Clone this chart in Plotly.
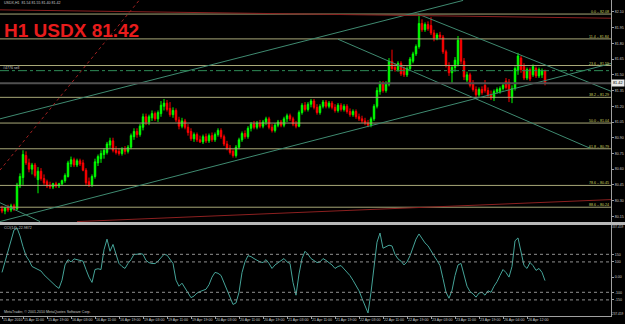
import plotly.graph_objects as go

# ---------------- data ----------------
BARS = list(range(182))
OPEN = [80.22,80.20,80.23,80.21,80.25,80.22,80.44,80.52,80.73,80.66,80.60,80.64,80.50,80.58,80.51,80.48,80.45,80.43,80.46,80.44,
        80.46,80.49,80.53,80.65,80.69,80.64,80.68,80.66,80.59,80.48,80.45,80.53,80.66,80.70,80.74,80.76,80.83,80.87,80.78,80.77,
        80.75,80.79,80.77,80.81,80.91,80.96,80.93,81.00,81.10,81.05,81.09,81.13,81.08,81.13,81.20,81.23,81.18,81.12,81.16,81.07,
        81.01,81.06,81.00,80.96,80.89,80.93,80.88,80.86,80.91,80.87,80.92,80.88,80.93,80.97,80.91,80.84,80.80,80.77,80.73,80.81,
        80.88,80.94,80.91,80.99,81.03,81.00,81.04,81.01,81.05,81.08,81.00,80.97,81.02,81.05,81.02,81.08,81.11,81.08,81.03,81.01,
        81.14,81.21,81.17,81.22,81.25,81.19,81.14,81.20,81.24,81.20,81.23,81.19,81.16,81.21,81.17,81.20,81.15,81.12,81.15,81.10,
        81.08,81.06,81.04,81.02,81.08,81.20,81.34,81.42,81.35,81.41,81.63,81.57,81.55,81.61,81.56,81.50,81.56,81.63,81.70,81.77,
        81.99,81.93,81.98,81.97,81.90,81.85,81.88,81.86,81.72,81.59,81.52,81.57,81.60,81.83,81.63,81.45,81.50,81.42,81.36,81.31,
        81.36,81.40,81.35,81.31,81.28,81.34,81.34,81.37,81.44,81.43,81.28,81.37,81.54,81.66,81.58,81.47,81.55,81.50,81.56,81.49,
        81.50,81.54]
HIGH = [80.25,80.24,80.26,80.27,80.27,80.47,80.56,80.78,80.77,80.70,80.66,80.66,80.62,80.61,80.55,80.50,80.48,80.47,80.48,80.47,
        80.50,80.56,80.68,80.72,80.71,80.70,80.70,80.69,80.61,80.52,80.55,80.70,80.74,80.78,80.80,80.86,80.90,80.90,80.82,80.80,
        80.81,80.82,80.83,80.94,80.99,80.99,81.03,81.13,81.13,81.12,81.16,81.15,81.16,81.25,81.27,81.26,81.24,81.19,81.18,81.10,
        81.09,81.08,81.03,80.99,80.95,80.95,80.92,80.93,80.94,80.94,80.95,80.95,80.99,80.99,80.93,80.87,80.83,80.79,80.83,80.90,
        80.96,80.97,81.01,81.05,81.06,81.06,81.07,81.07,81.10,81.10,81.03,81.04,81.07,81.07,81.10,81.13,81.13,81.10,81.06,81.16,
        81.23,81.24,81.24,81.27,81.27,81.22,81.22,81.26,81.26,81.25,81.25,81.22,81.23,81.23,81.22,81.22,81.18,81.17,81.17,81.13,
        81.11,81.09,81.07,81.10,81.22,81.38,81.44,81.44,81.44,81.66,81.74,81.61,81.63,81.63,81.58,81.58,81.67,81.72,81.79,82.08,
        82.03,82.00,82.01,82.05,81.93,81.90,81.91,81.88,81.74,81.62,81.59,81.67,81.87,81.85,81.66,81.53,81.52,81.45,81.39,81.38,
        81.39,81.45,81.38,81.35,81.36,81.38,81.39,81.42,81.47,81.46,81.40,81.58,81.71,81.68,81.61,81.57,81.57,81.60,81.58,81.57,
        81.56,81.55]
LOW = [80.18,80.17,80.19,80.19,80.20,80.21,80.42,80.45,80.64,80.57,80.55,80.52,80.37,80.49,80.45,80.42,80.41,80.41,80.42,80.42,
       80.44,80.47,80.52,80.62,80.62,80.62,80.63,80.58,80.44,80.43,80.43,80.51,80.63,80.66,80.70,80.74,80.80,80.76,80.74,80.73,
       80.73,80.74,80.75,80.79,80.88,80.90,80.91,80.97,81.02,81.02,81.06,81.06,81.05,81.10,81.16,81.15,81.10,81.09,81.05,80.98,
       80.99,80.98,80.92,80.87,80.86,80.86,80.85,80.84,80.85,80.85,80.86,80.86,80.91,80.89,80.82,80.78,80.74,80.71,80.71,80.79,
       80.86,80.89,80.89,80.96,80.98,80.98,80.99,80.99,81.02,80.98,80.95,80.95,81.00,81.00,81.00,81.05,81.06,81.01,80.99,81.00,
       81.12,81.15,81.15,81.19,81.17,81.12,81.12,81.18,81.18,81.18,81.17,81.14,81.14,81.15,81.15,81.13,81.10,81.10,81.08,81.06,
       81.04,81.02,81.00,81.00,81.06,81.18,81.31,81.33,81.33,81.39,81.54,81.53,81.53,81.49,81.48,81.48,81.54,81.61,81.68,81.75,
       81.91,81.91,81.92,81.88,81.82,81.83,81.84,81.70,81.57,81.49,81.42,81.53,81.58,81.60,81.45,81.43,81.38,81.34,81.29,81.29,
       81.31,81.33,81.29,81.26,81.25,81.32,81.32,81.35,81.36,81.24,81.23,81.35,81.50,81.52,81.45,81.45,81.44,81.48,81.47,81.47,
       81.47,81.40]
CLOSE = [80.20,80.23,80.21,80.25,80.22,80.45,80.53,80.74,80.66,80.60,80.64,80.54,80.58,80.51,80.47,80.44,80.43,80.46,80.44,80.46,
         80.49,80.54,80.66,80.69,80.64,80.68,80.65,80.59,80.47,80.45,80.53,80.67,80.72,80.75,80.78,80.84,80.87,80.78,80.76,80.75,
         80.79,80.77,80.81,80.92,80.96,80.93,81.01,81.10,81.05,81.10,81.13,81.08,81.14,81.21,81.23,81.17,81.12,81.16,81.07,81.01,
         81.06,81.00,80.95,80.89,80.93,80.88,80.86,80.91,80.87,80.92,80.88,80.93,80.97,80.91,80.84,80.80,80.76,80.73,80.81,80.88,
         80.94,80.91,80.99,81.03,81.00,81.04,81.01,81.05,81.08,81.00,80.97,81.02,81.05,81.02,81.08,81.11,81.08,81.03,81.01,81.14,
         81.21,81.17,81.22,81.25,81.19,81.14,81.20,81.24,81.20,81.23,81.19,81.16,81.21,81.17,81.20,81.15,81.12,81.15,81.10,81.08,
         81.06,81.04,81.02,81.08,81.20,81.35,81.42,81.35,81.41,81.63,81.56,81.55,81.61,81.51,81.50,81.56,81.65,81.70,81.77,81.99,
         81.93,81.98,81.94,81.90,81.85,81.88,81.86,81.72,81.59,81.52,81.57,81.64,81.83,81.63,81.48,81.50,81.40,81.36,81.31,81.36,
         81.33,81.35,81.31,81.28,81.34,81.36,81.37,81.40,81.38,81.28,81.37,81.56,81.68,81.55,81.47,81.55,81.46,81.58,81.49,81.55,
         81.54,81.42]
CCI = [31,100,160,230,310,324,271,200,140,110,70,60,50,40,15,-5,-25,-45,-60,-74,
       -20,80,115,100,120,115,112,105,50,0,-35,50,55,50,180,250,170,215,150,90,
       70,57,90,115,150,150,155,150,110,95,90,89,105,125,150,145,120,90,-20,-60,
       -40,-74,-105,-135,-125,-105,-95,-88,-80,-50,0,31,25,11,-40,-87,-130,-180,-170,-100,
       30,100,141,135,122,110,100,96,115,90,57,80,96,110,122,100,90,-35,-119,20,
       122,170,150,122,110,96,100,122,110,96,80,57,70,76,55,31,10,-21,-60,-90,
       -140,-190,-236,-100,80,230,290,190,200,210,205,150,120,105,80,100,140,200,250,284,
       252,225,206,170,141,110,76,-10,-100,-139,-87,10,80,90,11,-60,-95,-110,-132,-105,
       -100,-119,-90,-100,-60,-30,11,50,30,0,70,239,258,174,76,57,96,76,44,57,
       31,-22.99]

X_TICK_POS = [0, 7, 15, 23, 31, 39, 47, 55, 63, 71, 79, 87, 95, 103, 111, 119, 127, 135, 143, 151, 159, 167, 175]
X_TICK_TEXT = ["15 Apr 2010", "15 Apr 11:00", "15 Apr 19:00", "16 Apr 03:00", "16 Apr 11:00", "16 Apr 19:00",
               "19 Apr 03:00", "19 Apr 11:00", "19 Apr 19:00", "20 Apr 03:00", "20 Apr 11:00", "20 Apr 19:00",
               "21 Apr 03:00", "21 Apr 11:00", "21 Apr 19:00", "22 Apr 03:00", "22 Apr 11:00", "22 Apr 19:00",
               "23 Apr 03:00", "23 Apr 11:00", "23 Apr 19:00", "26 Apr 04:00", "26 Apr 12:00"]
PRICE_TICKS = [82.10, 81.95, 81.80, 81.65, 81.50, 81.35, 81.20, 81.05, 80.90, 80.75, 80.60, 80.45, 80.30, 80.15]
CCI_TICKS = [150, 100, 0, -100, -150]
CCI_TICK_TEXT = ["150", "100", "0.00", "-100", "-150"]
CCI_LEVELS = [150, 100, -100, -150]
CCI_MAX_LABEL, CCI_MIN_LABEL = "337.459", "-237.459"

FIB_HIGH, FIB_LOW = 82.08, 80.00
FIB_LEVELS = [0.0, 11.4, 23.6, 38.2, 50.0, 61.8, 78.6, 88.6]
LAST_PRICE = 81.42
SELL_PRICE = 81.54
HEADER = "USDX,H1  81.54 81.55 81.40 81.42"
TITLE = "H1 USDX 81.42"
CCI_TITLE = "CCI(14) -22.9872"
SELL_LABEL = "#4776 sell"
COPYRIGHT = "MetaTrader, © 2001-2010 MetaQuotes Software Corp."

# trend lines: (bar index, price) end points
TEAL_LINES = [
    [(-0.7, 81.08), (153.7, 82.21)],
    [(-0.7, 80.10), (203.3, 81.61)],
    [(-0.7, 80.28), (12.7, 80.10)],
    [(138.7, 82.08), (203.3, 81.34)],
    [(112.0, 81.84), (196.0, 80.80)],
]
RED_LINES = [
    [(-0.7, 82.12), (203.3, 82.04)],
    [(25.0, 80.10), (203.3, 80.31)],
]
RED_DOTTED = [(-0.7, 80.59), (45.7, 82.21)]

# ---------------- figure ----------------
X_RANGE = [-2 / 3, 203]
Y_RANGE = [80.096, 82.214]
Y2_RANGE = [-256, 343]
SMALL = dict(family="Liberation Sans, Arial", size=3.6, color="#c8c8c8")

fig = go.Figure()
fig.add_trace(go.Candlestick(
    x=BARS, open=OPEN, high=HIGH, low=LOW, close=CLOSE,
    increasing=dict(line=dict(color="#00ff00", width=1), fillcolor="#00ff00"),
    decreasing=dict(line=dict(color="#ff0000", width=1), fillcolor="#ff0000"),
    whiskerwidth=0, xaxis="x", yaxis="y", showlegend=False, hoverinfo="skip"))
fig.add_trace(go.Scatter(
    x=BARS, y=CCI, mode="lines", line=dict(color="#45a398", width=1),
    xaxis="x", yaxis="y2", showlegend=False, hoverinfo="skip"))

shapes = []
for lvl in FIB_LEVELS:
    p = FIB_HIGH - lvl / 100 * (FIB_HIGH - FIB_LOW)
    shapes.append(dict(type="line", xref="x", yref="y", x0=X_RANGE[0], x1=X_RANGE[1], y0=p, y1=p,
                       line=dict(color="#a8a878", width=1)))
for (a, b) in TEAL_LINES:
    shapes.append(dict(type="line", xref="x", yref="y", x0=a[0], y0=a[1], x1=b[0], y1=b[1],
                       line=dict(color="#3f8a70", width=1)))
for (a, b) in RED_LINES:
    shapes.append(dict(type="line", xref="x", yref="y", x0=a[0], y0=a[1], x1=b[0], y1=b[1],
                       line=dict(color="#8c2020", width=1)))
shapes.append(dict(type="line", xref="x", yref="y", x0=RED_DOTTED[0][0], y0=RED_DOTTED[0][1],
                   x1=RED_DOTTED[1][0], y1=RED_DOTTED[1][1], line=dict(color="#a02020", width=1, dash="dot")))
shapes.append(dict(type="line", xref="x", yref="y", x0=X_RANGE[0], x1=X_RANGE[1], y0=SELL_PRICE, y1=SELL_PRICE,
                   line=dict(color="#2e8b57", width=1, dash="dashdot")))
shapes.append(dict(type="line", xref="x", yref="y", x0=X_RANGE[0], x1=X_RANGE[1], y0=LAST_PRICE, y1=LAST_PRICE,
                   line=dict(color="#505050", width=2)))
for lv in CCI_LEVELS:
    shapes.append(dict(type="line", xref="x", yref="y2", x0=X_RANGE[0], x1=X_RANGE[1], y0=lv, y1=lv,
                       line=dict(color="#909090", width=1, dash="dot")))
# window separator
shapes.append(dict(type="rect", xref="paper", yref="paper", x0=0, x1=625 / 611,
                   y0=1 - 225 / 316, y1=1 - 222 / 316, fillcolor="#b8b8b8", line=dict(width=0), layer="above"))

annotations = []
for lvl in FIB_LEVELS:
    p = FIB_HIGH - lvl / 100 * (FIB_HIGH - FIB_LOW)
    annotations.append(dict(xref="x", yref="y", x=202.6, y=p, xanchor="right", yanchor="bottom",
                            text=f"{lvl:.1f} – {p:.2f}", showarrow=False,
                            font=dict(family="Liberation Sans, Arial", size=3.6, color="#d0d060"),
                            borderpad=0, yshift=-1))
annotations.append(dict(xref="paper", yref="y", x=1.0, y=LAST_PRICE, xanchor="left", yanchor="middle",
                        text=f"{LAST_PRICE:.2f}", showarrow=False, bgcolor="#e8e8e8",
                        font=dict(family="Liberation Sans, Arial", size=3.8, color="#000000"), borderpad=1))
annotations.append(dict(xref="paper", yref="paper", x=2 / 611, y=1 - 3.5 / 316, xanchor="left", yanchor="middle",
                        text=HEADER, showarrow=False, font=SMALL))
annotations.append(dict(xref="paper", yref="paper", x=2 / 611, y=1 - 30.5 / 316, xanchor="left", yanchor="middle",
                        text=f"<b>{TITLE}</b>", showarrow=False,
                        font=dict(family="Liberation Sans, Arial", size=19, color="#e81c1c")))
annotations.append(dict(xref="paper", yref="y", x=2 / 611, y=SELL_PRICE, xanchor="left", yanchor="bottom",
                        text=SELL_LABEL, showarrow=False, font=SMALL, borderpad=0))
annotations.append(dict(xref="paper", yref="paper", x=2 / 611, y=1 - 228 / 316, xanchor="left", yanchor="middle",
                        text=CCI_TITLE, showarrow=False, font=SMALL))
annotations.append(dict(xref="paper", yref="paper", x=2 / 611, y=1 - 312 / 316, xanchor="left", yanchor="middle",
                        text=COPYRIGHT, showarrow=False, font=SMALL))
CORNER = dict(family="Liberation Sans, Arial", size=3.1, color="#c8c8c8")
annotations.append(dict(xref="paper", yref="paper", x=624 / 611, y=1 - 227.5 / 316, xanchor="right", yanchor="middle",
                        text=CCI_MAX_LABEL, showarrow=False, font=CORNER, borderpad=0))
annotations.append(dict(xref="paper", yref="paper", x=624 / 611, y=1 - 313.5 / 316, xanchor="right", yanchor="middle",
                        text=CCI_MIN_LABEL, showarrow=False, font=CORNER, borderpad=0))

axis_common = dict(showgrid=False, zeroline=False, showline=True, linecolor="#a0a0a0", linewidth=1,
                   ticks="outside", ticklen=2, tickcolor="#a0a0a0", tickfont=SMALL, fixedrange=True)
fig.update_layout(
    width=625, height=324, margin=dict(l=0, r=14, t=0, b=8),
    paper_bgcolor="#000000", plot_bgcolor="#000000",
    showlegend=False, shapes=shapes, annotations=annotations,
    xaxis=dict(range=X_RANGE, anchor="y2", type="linear", tickmode="array", tickvals=X_TICK_POS,
               ticktext=X_TICK_TEXT, ticklabelposition="outside right", tickangle=0,
               rangeslider=dict(visible=False), **axis_common),
    yaxis=dict(domain=[94 / 316, 1], range=Y_RANGE, side="right", anchor="x", tickmode="array",
               tickvals=PRICE_TICKS, ticktext=[f"{v:.2f}" for v in PRICE_TICKS], **axis_common),
    yaxis2=dict(domain=[0, 91 / 316], range=Y2_RANGE, side="right", anchor="x", tickmode="array",
                tickvals=CCI_TICKS, ticktext=CCI_TICK_TEXT, **axis_common),
)
fig.write_html("out.html")
